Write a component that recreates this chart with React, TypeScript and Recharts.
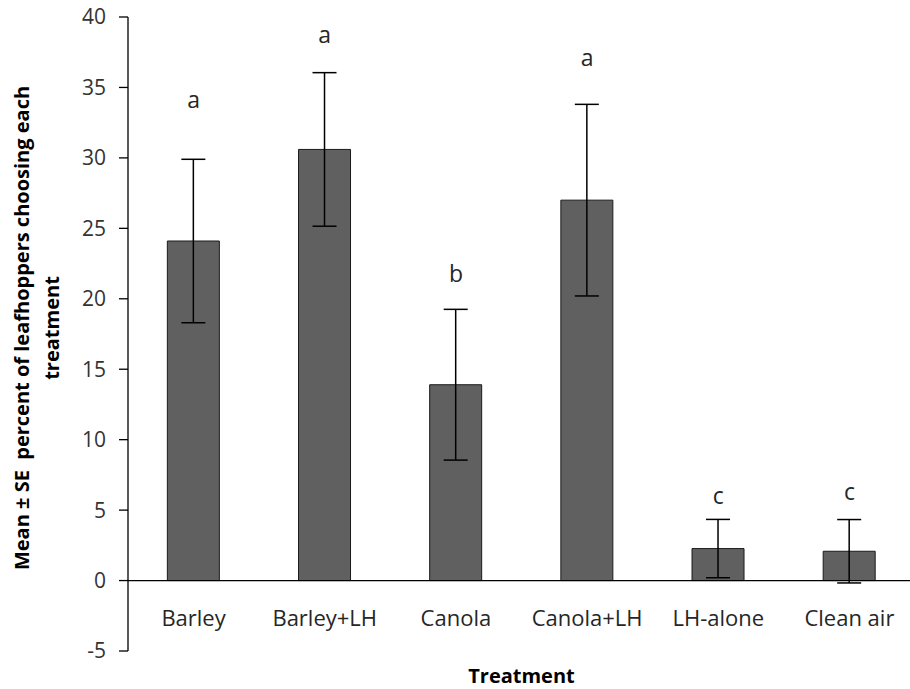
import { ComposedChart, Bar, XAxis, YAxis, ErrorBar, ReferenceLine, ReferenceDot } from "recharts"

const categories = ["Barley", "Barley+LH", "Canola", "Canola+LH", "LH-alone", "Clean air"]
const means = [24.1, 30.6, 13.9, 27.0, 2.27, 2.08]
const stdErrors = [5.8, 5.45, 5.35, 6.8, 2.07, 2.25]
const letters = ["a", "a", "b", "a", "c", "c"]
const letterHeights = [34.1, 38.75, 21.8, 37.1, 6.0, 6.3]
const yTicks = [-5, 0, 5, 10, 15, 20, 25, 30, 35, 40]

const data = categories.map((name, i) => ({ name, mean: means[i], se: stdErrors[i] }))

const FONT = "'Open Sans', 'Noto Sans', sans-serif"

function CategoryTick(props: any) {
  const { x, y, payload } = props
  return (
    <text x={x} y={y} dy={-34} textAnchor="middle" dominantBaseline="central"
      fontFamily={FONT} fontSize={22} fill="#262626">
      {payload.value}
    </text>
  )
}

function YTitle(props: any) {
  const { viewBox } = props
  const cy = viewBox.y + viewBox.height / 2 - 6
  return (
    <g fontFamily={FONT} fontSize={20} fontWeight="bold" fill="#000">
      <text x={21} y={cy} transform={`rotate(-90 21 ${cy})`} textAnchor="middle" dominantBaseline="central">
        {"Mean ± SE\u00a0 percent of leafhoppers choosing each"}
      </text>
      <text x={51} y={cy} transform={`rotate(-90 51 ${cy})`} textAnchor="middle" dominantBaseline="central">
        treatment
      </text>
    </g>
  )
}

function XTitle(props: any) {
  const { viewBox } = props
  return (
    <text x={viewBox.x + viewBox.width / 2} y={viewBox.y + 24} textAnchor="middle" dominantBaseline="central"
      fontFamily={FONT} fontSize={20} fontWeight="bold" fill="#000">
      Treatment
    </text>
  )
}

export default function App() {
  return (
    <div style={{ position: "absolute", top: 0, left: 0, width: 910, height: 689, overflow: "hidden", background: "#fff" }}>
      <ComposedChart width={920} height={689} data={data} barCategoryGap="30%"
        margin={{ top: 17, right: 5, bottom: 0, left: 0 }}>
        <XAxis dataKey="name" height={38} axisLine={false} tickLine={false} tickSize={0} tickMargin={0}
          tick={CategoryTick} interval={0} label={{ content: XTitle }} />
        <YAxis width={128} domain={[-5, 40]} ticks={yTicks} interval={0} allowDataOverflow
          axisLine={{ stroke: "#000", strokeWidth: 1.3 }} tickLine={{ stroke: "#000", strokeWidth: 1.3 }}
          tickSize={9} tickMargin={13}
          tick={{ fontFamily: FONT, fontSize: 21, fill: "#333" }} label={{ content: YTitle }} />
        <ReferenceLine y={0} stroke="#000" strokeWidth={1.3} />
        <Bar dataKey="mean" fill="#606060" stroke="#1a1a1a" strokeWidth={1} isAnimationActive={false}>
          <ErrorBar dataKey="se" width={12} stroke="#000" strokeWidth={1.5} direction="y" />
        </Bar>
        {categories.map((c, i) => (
          <ReferenceDot key={c} x={c} y={letterHeights[i]} r={1} fill="none" stroke="none"
            label={{ value: letters[i], position: "center", fontFamily: FONT, fontSize: 23, fill: "#262626" }} />
        ))}
      </ComposedChart>
    </div>
  )
}
